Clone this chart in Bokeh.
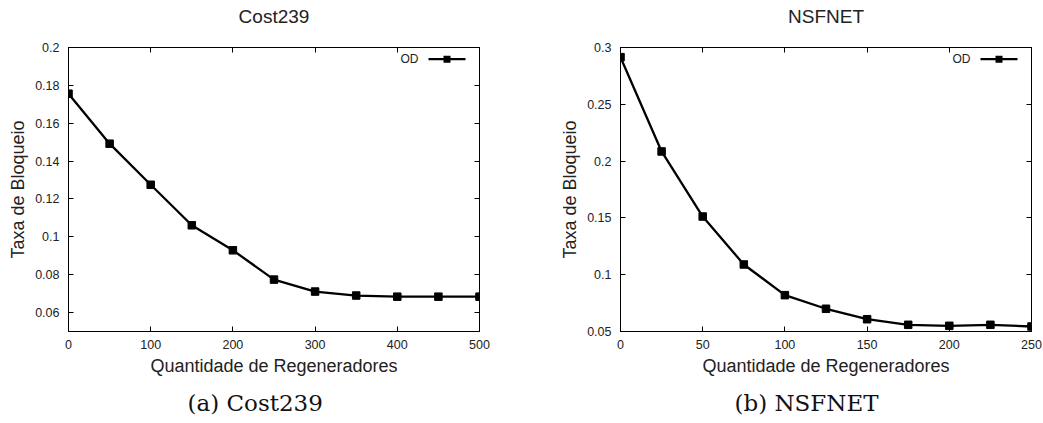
from bokeh.plotting import figure
from bokeh.layouts import row
from bokeh.models import Range1d, FixedTicker, LinearAxis, Title, Label, BoxAnnotation
from bokeh.embed import file_html
from bokeh.resources import INLINE

# ---- data ----
cost_x = [0, 50, 100, 150, 200, 250, 300, 350, 400, 450, 500]
cost_y = [0.1756, 0.1492, 0.1275, 0.1061, 0.0929, 0.0774, 0.0711, 0.0690, 0.0684, 0.0684, 0.0684]
nsf_x = [0, 25, 50, 75, 100, 125, 150, 175, 200, 225, 250]
nsf_y = [0.2915, 0.2085, 0.1512, 0.1090, 0.0820, 0.0700, 0.0608, 0.0559, 0.0550, 0.0559, 0.0544]

cost_xticks = [0, 100, 200, 300, 400, 500]
cost_yticks = [0.06, 0.08, 0.1, 0.12, 0.14, 0.16, 0.18, 0.2]
cost_ylabels = ["0.06", "0.08", "0.1", "0.12", "0.14", "0.16", "0.18", "0.2"]
nsf_xticks = [0, 50, 100, 150, 200, 250]
nsf_yticks = [0.05, 0.1, 0.15, 0.2, 0.25, 0.3]
nsf_ylabels = ["0.05", "0.1", "0.15", "0.2", "0.25", "0.3"]

series_name = "OD"
x_title = "Quantidade de Regeneradores"
y_title = "Taxa de Bloqueio"

SANS = "Liberation Sans"
TXT = "#222222"
FW, FH = 411, 284


def style_axis(ax, ticks, labels=None, show_labels=True):
    ax.ticker = FixedTicker(ticks=ticks)
    ax.major_tick_in = 5
    ax.major_tick_out = 0
    ax.minor_tick_in = 0
    ax.minor_tick_out = 0
    ax.axis_line_color = "black"
    ax.major_tick_line_color = "black"
    ax.major_label_text_font = SANS
    if show_labels:
        ax.major_label_text_color = TXT
        ax.major_label_text_font_size = "12.5px"
        if labels is not None:
            ax.major_label_overrides = {t: l for t, l in zip(ticks, labels)}
    else:
        ax.major_label_text_color = None
        ax.major_label_text_font_size = "1px"
        ax.major_label_standoff = 0


def panel(title, caption, cap_offset, xs, ys, xr, yr, xticks, yticks, ylabels, bl, br):
    p = figure(frame_width=FW, frame_height=FH,
               x_range=Range1d(*xr), y_range=Range1d(*yr),
               output_backend="svg", toolbar_location=None,
               x_axis_type=None, y_axis_type=None,
               min_border_left=bl, min_border_right=br,
               min_border_top=47, min_border_bottom=92)
    p.grid.visible = False
    p.outline_line_color = "black"
    p.outline_line_width = 1
    p.background_fill_color = "white"
    p.border_fill_color = "white"

    bottom = LinearAxis(axis_label=x_title)
    left = LinearAxis(axis_label=y_title)
    top = LinearAxis()
    right = LinearAxis()
    style_axis(bottom, xticks)
    style_axis(left, yticks, ylabels)
    style_axis(top, xticks, show_labels=False)
    style_axis(right, yticks, show_labels=False)
    bottom.major_label_standoff = 8
    left.major_label_standoff = 9
    for ax in (bottom, left):
        ax.axis_label_text_font = SANS
        ax.axis_label_text_font_size = "18px"
        ax.axis_label_text_font_style = "normal"
        ax.axis_label_text_color = TXT
    bottom.axis_label_standoff = 4
    left.axis_label_standoff = 4
    p.add_layout(bottom, "below")
    p.add_layout(left, "left")
    p.add_layout(top, "above")
    p.add_layout(right, "right")

    p.title.text = title
    p.title.align = "center"
    p.title.text_font = SANS
    p.title.text_font_size = "19px"
    p.title.text_font_style = "normal"
    p.title.text_color = TXT
    p.title.standoff = 7
    p.title.padding = dict(top=0, right=0, bottom=17, left=0)

    p.add_layout(Title(text=caption, align="left", offset=cap_offset,
                       standoff=19, text_font="DejaVu Serif",
                       text_font_size="23px", text_font_style="normal",
                       text_color="#111111"), "below")

    p.line(xs, ys, line_color="black", line_width=2.3)
    p.scatter(xs, ys, marker="square", size=7.5, fill_color="black", line_color="black")

    # key: label on the left, line sample with a square on the right
    p.add_layout(Label(x=350, y=FH - 11.5, x_units="screen", y_units="screen",
                       text=series_name, text_align="right", text_baseline="middle",
                       text_font=SANS, text_font_size="12px", text_color=TXT))
    p.add_layout(BoxAnnotation(left=360, right=397, bottom=FH - 12.8, top=FH - 10.6,
                               left_units="screen", right_units="screen",
                               bottom_units="screen", top_units="screen",
                               fill_color="black", fill_alpha=1, line_color=None))
    p.add_layout(BoxAnnotation(left=375, right=382, bottom=FH - 15.2, top=FH - 8.2,
                               left_units="screen", right_units="screen",
                               bottom_units="screen", top_units="screen",
                               fill_color="black", fill_alpha=1, line_color=None))
    return p


p1 = panel("Cost239", "(a) Cost239", 119, cost_x, cost_y, (0, 500), (0.05, 0.2),
           cost_xticks, cost_yticks, cost_ylabels, 68, 41)
p2 = panel("NSFNET", "(b) NSFNET", 114, nsf_x, nsf_y, (0, 250), (0.05, 0.3),
           nsf_xticks, nsf_yticks, nsf_ylabels, 100, 11)

layout = row(p1, p2)
open("out.html", "w").write(file_html(layout, INLINE))
